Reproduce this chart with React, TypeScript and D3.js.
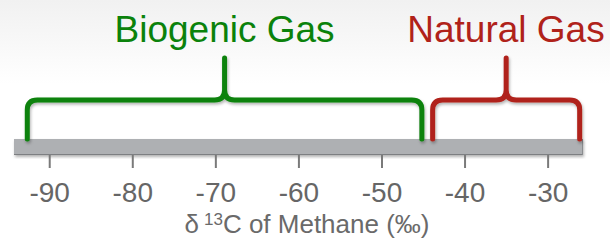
import React from "react";
import * as d3 from "d3";

const tickValues = [-90, -80, -70, -60, -50, -40, -30];
const axisDomain = [-94.3, -25.8];
const rangeNames = ["Biogenic Gas", "Natural Gas"];
const rangeStarts = [-92.7, -43.9];
const rangeEnds = [-45.2, -26.2];
const rangeColors = ["#0b820b", "#b0221a"];
const axisTitle = "C of Methane (‰)";

const W = 610;
const H = 240;

export default function App() {
  const x = d3.scaleLinear().domain(axisDomain).range([14, 583]);
  const barTop = 139;
  const barBottom = 155;
  const yh = 100;
  const yt = 58;
  const r = 10;

  const bracePath = (a: number, b: number) => {
    const x0 = x(a);
    const x1 = x(b);
    const xm = (x0 + x1) / 2;
    const p = d3.path();
    p.moveTo(x0, barTop);
    p.lineTo(x0, yh + r);
    p.quadraticCurveTo(x0, yh, x0 + r, yh);
    p.lineTo(xm - r, yh);
    p.quadraticCurveTo(xm, yh, xm, yh - r);
    p.lineTo(xm, yt);
    p.moveTo(xm, yh - r);
    p.quadraticCurveTo(xm, yh, xm + r, yh);
    p.lineTo(x1 - r, yh);
    p.quadraticCurveTo(x1, yh, x1, yh + r);
    p.lineTo(x1, barTop);
    return p.toString();
  };

  return (
    <svg
      width={W}
      height={H}
      style={{ position: "absolute", left: 0, top: 0 }}
      fontFamily="'Liberation Sans', Arial, sans-serif"
    >
      <defs>
        <linearGradient id="bg" x1="0" y1="0" x2="0" y2="1">
          <stop offset="0" stopColor="#f1f1f1" />
          <stop offset="0.35" stopColor="#ffffff" />
          <stop offset="1" stopColor="#ffffff" />
        </linearGradient>
        <filter id="sh" x="-10%" y="-10%" width="120%" height="130%">
          <feDropShadow dx="1" dy="2" stdDeviation="1.5" floodColor="#000" floodOpacity="0.3" />
        </filter>
      </defs>
      <rect x={0} y={0} width={W} height={H} fill="url(#bg)" />

      {/* bar */}
      <g filter="url(#sh)">
        <rect x={x(axisDomain[0])} y={barTop} width={x(axisDomain[1]) - x(axisDomain[0])} height={barBottom - barTop} fill="#aeb0b3" />
      </g>
      <line x1={x(axisDomain[0])} x2={x(axisDomain[1])} y1={barBottom - 0.5} y2={barBottom - 0.5} stroke="#7d7f82" strokeWidth={1} />
      <line x1={x(axisDomain[1]) - 0.5} x2={x(axisDomain[1]) - 0.5} y1={barTop} y2={barBottom} stroke="#8a8c8f" strokeWidth={1} />

      {/* ticks */}
      {tickValues.map((t) => (
        <g key={t}>
          <line x1={x(t)} x2={x(t)} y1={barBottom} y2={168} stroke="#7a7a7a" strokeWidth={2} />
          <text x={x(t)} y={202} textAnchor="middle" fontSize={28} fill="#666">
            {t}
          </text>
        </g>
      ))}

      <text x={307} y={233} textAnchor="middle" fontSize={26} fill="#6a6a6a">
        <tspan>δ</tspan>
        <tspan dx={5} dy={-8} fontSize={17}>13</tspan>
        <tspan dy={8}>{axisTitle}</tspan>
      </text>

      {/* braces */}
      {rangeNames.map((name, i) => {
        const xm = (x(rangeStarts[i]) + x(rangeEnds[i])) / 2;
        return (
          <g key={name}>
            <path
              d={bracePath(rangeStarts[i], rangeEnds[i])}
              fill="none"
              stroke={rangeColors[i]}
              strokeWidth={5}
              strokeLinecap="round"
              strokeLinejoin="round"
              filter="url(#sh)"
            />
            <text x={i === 1 ? 506 : xm} y={42} textAnchor="middle" fontSize={37} fill={rangeColors[i]}>
              {name}
            </text>
          </g>
        );
      })}
    </svg>
  );
}
